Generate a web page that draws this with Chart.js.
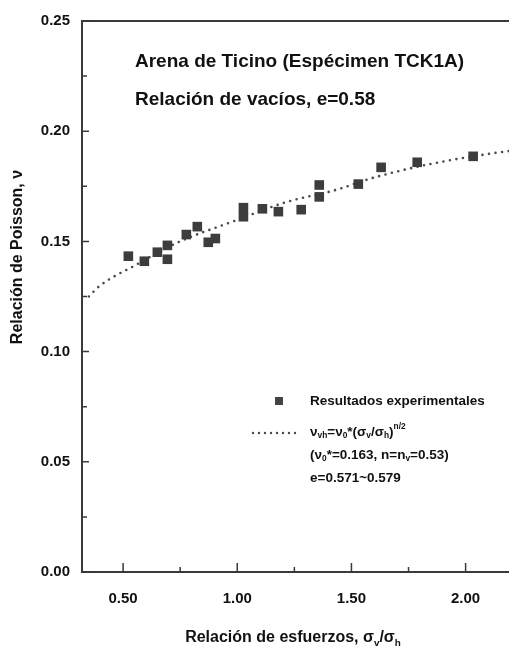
<!DOCTYPE html>
<html>
<head>
<meta charset="utf-8">
<script src="https://cdn.jsdelivr.net/npm/chart.js@4.4.0/dist/chart.umd.min.js"></script>
<style>
  html, body { margin: 0; padding: 0; background: #fff; }
  #wrap { width: 509px; height: 657px; }
</style>
</head>
<body>
<div id="wrap"><canvas id="poissonChart" width="509" height="657"></canvas></div>
<script>
// Datos experimentales (relación de esfuerzos vs relación de Poisson)
const ratioX = [0.523, 0.593, 0.650, 0.694, 0.694, 0.777, 0.825, 0.873, 0.904, 1.027, 1.027, 1.110, 1.180, 1.280, 1.359, 1.359, 1.530, 1.630, 1.788, 2.033];
const poissonY = [0.1433, 0.1410, 0.1451, 0.1482, 0.1419, 0.1531, 0.1567, 0.1496, 0.1513, 0.1653, 0.1612, 0.1648, 0.1635, 0.1644, 0.1702, 0.1756, 0.1760, 0.1836, 0.1859, 0.1886];

// Curva de ajuste
const fitX = [0.35, 0.40, 0.55, 0.75, 0.98, 1.22, 1.42, 1.60, 1.84, 2.12, 2.19];
const fitY = [0.125, 0.130, 0.139, 0.150, 0.159, 0.168, 0.173, 0.179, 0.185, 0.190, 0.191];

// Ejes
const xTickValues = [0.5, 1.0, 1.5, 2.0];
const xMinorTicks = [0.75, 1.25, 1.75];
const yTickValues = [0, 0.05, 0.10, 0.15, 0.20, 0.25];
const yMinorTicks = [0.025, 0.075, 0.125, 0.175, 0.225];

const FONT = "'Liberation Sans', Arial, sans-serif";
const INK = "#111";
const AXIS = "#3a3a3a";

function drawRich(ctx, parts, x, y, size) {
  let cx = x;
  parts.forEach(function (p) {
    const s = (p.sub || p.sup) ? size * 0.62 : size;
    ctx.font = "bold " + s + "px " + FONT;
    const dy = p.sub ? size * 0.3 : (p.sup ? -size * 0.38 : 0);
    ctx.fillText(p.t, cx, y + dy);
    cx += ctx.measureText(p.t).width;
  });
  return cx - x;
}

function richWidth(ctx, parts, size) {
  let w = 0;
  parts.forEach(function (p) {
    const s = (p.sub || p.sup) ? size * 0.62 : size;
    ctx.font = "bold " + s + "px " + FONT;
    w += ctx.measureText(p.t).width;
  });
  return w;
}

const decorations = {
  id: "decorations",
  afterDraw(chart) {
    const ctx = chart.ctx;
    const a = chart.chartArea;
    const xs = chart.scales.x;
    const ys = chart.scales.y;
    ctx.save();

    // marco
    ctx.strokeStyle = AXIS;
    ctx.lineWidth = 2;
    ctx.beginPath();
    ctx.moveTo(a.right, a.top);
    ctx.lineTo(a.left, a.top);
    ctx.lineTo(a.left, a.bottom);
    ctx.lineTo(a.right, a.bottom);
    ctx.stroke();

    // marcas hacia dentro
    ctx.lineWidth = 1.5;
    ctx.beginPath();
    xTickValues.forEach(function (v) {
      const px = xs.getPixelForValue(v);
      ctx.moveTo(px, a.bottom); ctx.lineTo(px, a.bottom - 9);
    });
    xMinorTicks.forEach(function (v) {
      const px = xs.getPixelForValue(v);
      ctx.moveTo(px, a.bottom); ctx.lineTo(px, a.bottom - 5);
    });
    yTickValues.forEach(function (v) {
      const py = ys.getPixelForValue(v);
      ctx.moveTo(a.left, py); ctx.lineTo(a.left + 7, py);
    });
    yMinorTicks.forEach(function (v) {
      const py = ys.getPixelForValue(v);
      ctx.moveTo(a.left, py); ctx.lineTo(a.left + 5, py);
    });
    ctx.stroke();

    ctx.fillStyle = INK;
    ctx.textBaseline = "middle";
    ctx.textAlign = "left";

    // titulo
    ctx.font = "bold 19px " + FONT;
    ctx.fillText("Arena de Ticino (Espécimen TCK1A)", 135, 62);
    ctx.fillText("Relación de vacíos, e=0.58", 135, 100);

    // leyenda
    ctx.fillStyle = "#444";
    ctx.fillRect(275, 397, 8, 8);
    ctx.strokeStyle = "#4a4a4a";
    ctx.lineWidth = 2.4;
    ctx.lineCap = "round";
    ctx.setLineDash([0, 6]);
    ctx.beginPath();
    ctx.moveTo(253, 433);
    ctx.lineTo(300, 433);
    ctx.stroke();
    ctx.setLineDash([]);

    ctx.fillStyle = INK;
    ctx.font = "bold 13.5px " + FONT;
    ctx.fillText("Resultados experimentales", 310, 401);
    drawRich(ctx, [
      { t: "ν" }, { t: "vh", sub: true }, { t: "=ν" }, { t: "0", sub: true },
      { t: "*(σ" }, { t: "v", sub: true }, { t: "/σ" }, { t: "h", sub: true },
      { t: ")" }, { t: "n/2", sup: true }
    ], 310, 432, 13.5);
    drawRich(ctx, [
      { t: "(ν" }, { t: "0", sub: true }, { t: "*=0.163, n=n" }, { t: "v", sub: true }, { t: "=0.53)" }
    ], 310, 455, 13.5);
    ctx.font = "bold 13.5px " + FONT;
    ctx.fillText("e=0.571~0.579", 310, 478);

    // titulo eje x
    const xTitle = [
      { t: "Relación de esfuerzos, σ" }, { t: "v", sub: true }, { t: "/σ" }, { t: "h", sub: true }
    ];
    const w = richWidth(ctx, xTitle, 16);
    drawRich(ctx, xTitle, 293 - w / 2, 638, 16);

    // titulo eje y
    ctx.save();
    ctx.translate(18, 257);
    ctx.rotate(-Math.PI / 2);
    ctx.textAlign = "center";
    ctx.font = "bold 16px " + FONT;
    ctx.fillText("Relación de Poisson, ν", 0, 0);
    ctx.restore();

    ctx.restore();
  }
};

const ctx = document.getElementById("poissonChart").getContext("2d");

new Chart(ctx, {
  type: "scatter",
  data: {
    datasets: [
      {
        label: "Resultados experimentales",
        data: ratioX.map(function (x, i) { return { x: x, y: poissonY[i] }; }),
        pointStyle: "rect",
        pointRadius: 6.8,
        pointHoverRadius: 6.8,
        backgroundColor: "#3d3d3d",
        borderColor: "#3d3d3d",
        borderWidth: 0
      },
      {
        label: "Ajuste",
        type: "line",
        data: fitX.map(function (x, i) { return { x: x, y: fitY[i] }; }),
        borderColor: "#4a4a4a",
        borderWidth: 2.6,
        borderDash: [0, 6.6],
        borderCapStyle: "round",
        pointRadius: 0,
        cubicInterpolationMode: "monotone",
        fill: false
      }
    ]
  },
  options: {
    responsive: false,
    animation: false,
    layout: { autoPadding: false, padding: { top: 14, right: 0, left: 0, bottom: 0 } },
    plugins: {
      legend: { display: false },
      tooltip: { enabled: false }
    },
    scales: {
      x: {
        type: "linear",
        min: 0.32,
        max: 2.19,
        afterBuildTicks: function (scale) {
          scale.ticks = xTickValues.map(function (v) { return { value: v }; });
        },
        afterFit: function (scale) { scale.height = 85; },
        grid: { display: false, drawTicks: false },
        border: { display: false },
        ticks: {
          autoSkip: false,
          maxRotation: 0,
          padding: 18,
          color: INK,
          font: { family: FONT, size: 15, weight: "bold" },
          callback: function (v) { return Number(v).toFixed(2); }
        }
      },
      y: {
        min: 0,
        max: 0.25,
        afterBuildTicks: function (scale) {
          scale.ticks = yTickValues.map(function (v) { return { value: v }; });
        },
        afterFit: function (scale) { scale.width = 82; },
        grid: { display: false, drawTicks: false },
        border: { display: false },
        ticks: {
          autoSkip: false,
          padding: 12,
          color: INK,
          font: { family: FONT, size: 15, weight: "bold" },
          callback: function (v) { return Number(v).toFixed(2); }
        }
      }
    }
  },
  plugins: [decorations]
});
</script>
</body>
</html>
